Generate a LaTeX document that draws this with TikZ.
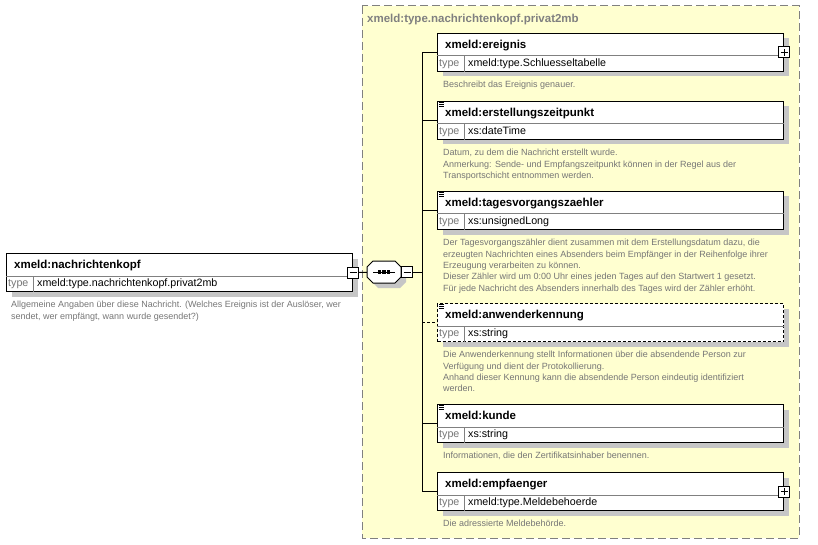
\documentclass[tikz,border=0pt]{standalone}
\usepackage{fontspec}
\setmainfont{Liberation Sans}
\usetikzlibrary{positioning,shadows}
\definecolor{panelyellow}{RGB}{255,255,208}
\definecolor{framegray}{RGB}{128,128,128}
\definecolor{textgray}{RGB}{118,118,118}
\definecolor{shadowgray}{RGB}{198,198,198}
\tikzset{
  elbox/.style ={rectangle, draw=black, line width=1pt, fill=white, minimum width=346pt, minimum height=38pt, inner sep=0pt, anchor=north west,
                 drop shadow={shadow xshift=5pt, shadow yshift=-5pt, fill=shadowgray, opacity=1}},
  optbox/.style={dash pattern=on 3pt off 2pt},
  rowrule/.style={draw=framegray, line width=1pt},
  eltitle/.style={anchor=base west, inner sep=0pt, font=\fontsize{11.5}{13}\selectfont\bfseries},
  tylabel/.style={anchor=base west, inner sep=0pt, text=textgray, font=\fontsize{10.7}{12}\selectfont},
  tyname/.style ={anchor=base west, inner sep=0pt, font=\fontsize{10.7}{12}\selectfont},
  desc/.style   ={inner sep=0pt, align=left, text=textgray, font=\fontsize{9}{11.4}\selectfont},
  wire/.style   ={draw=black, line width=1pt},
  optwire/.style={wire, dash pattern=on 3pt off 2pt},
  expander/.style={rectangle, draw=black, line width=1pt, fill=white, minimum size=11pt, inner sep=0pt},
  plusbox/.style ={expander, path picture={
      \draw[line width=1pt] ([xshift=2pt]path picture bounding box.west) -- ([xshift=-2pt]path picture bounding box.east)
                            ([yshift=-2pt]path picture bounding box.north) -- ([yshift=2pt]path picture bounding box.south);}},
  minusbox/.style={expander, path picture={
      \draw[line width=1pt] ([xshift=2pt]path picture bounding box.west) -- ([xshift=-2pt]path picture bounding box.east);}},
  seqhull/.style={rectangle, minimum width=34pt, minimum height=22pt, inner sep=0pt},
  panel/.style  ={fill=panelyellow, draw=framegray, line width=1pt, dash pattern=on 8pt off 4pt},
  paneltitle/.style={anchor=base west, inner sep=0pt, text=framegray, font=\fontsize{11.5}{13}\selectfont\bfseries},
  simpleicon/.style={draw=black, line width=0.8pt},
}
% element box: name, x, y, title, type, extra style
\newcommand{\xelem}[6]{%
  \node[elbox,#6] (#1) at (#2,#3) {};
  \draw[rowrule] ([yshift=-23pt]#1.north west) -- ([yshift=-23pt]#1.north east);
  \draw[rowrule] ([xshift=27pt,yshift=-23pt]#1.north west) -- ([xshift=27pt]#1.south west);
  \node[eltitle] (#1-t) at ([xshift=8pt,yshift=-15.5pt]#1.north west) {#4};
  \node[tylabel] (#1-l) at ([xshift=2pt,yshift=-33.7pt]#1.north west) {type};
  \node[tyname] (#1-n) at ([xshift=31pt,yshift=-33.7pt]#1.north west) {#5};
}

\begin{document}
\begin{tikzpicture}[x=1pt,y=-1pt]
\useasboundingbox (0,0) rectangle (818,545);
\draw[panel] (362,6) rectangle (799,538);
\node[paneltitle] (ptitle) at (367,23) {xmeld:type.nachrichtenkopf.privat2mb};

\xelem{main}{6}{253}{xmeld:nachrichtenkopf}{xmeld:type.nachrichtenkopf.privat2mb}{}
\node[desc, below right=9pt and 5pt of main.south west] (main-d)
  {Allgemeine Angaben über diese Nachricht. (Welches Ereignis ist der Auslöser, wer\\sendet, wer empfängt, wann wurde gesendet?)};
\node[minusbox] (mainx) at (main.east) {};

% sequence compositor
\node[seqhull] (seq) at (384,272) {};
\begin{scope}[shift={(seq.center)}]
\fill[shadowgray, xshift=5pt, yshift=-5pt] (-17,-5) -- (-11,-11) -- (11,-11) -- (17,-5) -- (17,5) -- (11,11) -- (-11,11) -- (-17,5) -- cycle;
\draw[wire, fill=white] (-17,-5) -- (-11,-11) -- (11,-11) -- (17,-5) -- (17,5) -- (11,11) -- (-11,11) -- (-17,5) -- cycle;
\draw[wire] (-11,0) -- (11,0);
\foreach \dx in {-4.5,0,4.5}
  \fill (\dx-1.75,-1.75) rectangle (\dx+1.75,1.75);
\end{scope}
\node[minusbox, anchor=west] (seqx) at (seq.east) {};
\draw[wire] (mainx) -- (seq);

\xelem{ereig}{437}{33}{xmeld:ereignis}{xmeld:type.Schluesseltabelle}{}
\xelem{erst}{437}{101}{xmeld:erstellungszeitpunkt}{xs:dateTime}{}
\xelem{tages}{437}{191}{xmeld:tagesvorgangszaehler}{xs:unsignedLong}{}
\xelem{anw}{437}{303}{xmeld:anwenderkennung}{xs:string}{optbox}
\xelem{kunde}{437}{404}{xmeld:kunde}{xs:string}{}
\xelem{empf}{437}{472}{xmeld:empfaenger}{xmeld:type.Meldebehoerde}{}
\node[plusbox] (ereigx) at (ereig.east) {};
\node[plusbox] (empfx) at (empf.east) {};
\foreach \n in {erst,tages,anw,kunde}
  \foreach \k in {1,3,5}
    \draw[simpleicon] ([xshift=2pt,yshift=-\k pt]\n.north west) -- ++(5pt,0pt);

\node[desc, below right=9pt and 6pt of ereig.south west] (ereig-d) {Beschreibt das Ereignis genauer.};
\node[desc, below right=9pt and 6pt of erst.south west] (erst-d)
  {Datum, zu dem die Nachricht erstellt wurde.\\Anmerkung: Sende- und Empfangszeitpunkt können in der Regel aus der\\Transportschicht entnommen werden.};
\node[desc, below right=9pt and 6pt of tages.south west] (tages-d)
  {Der Tagesvorgangszähler dient zusammen mit dem Erstellungsdatum dazu, die\\erzeugten Nachrichten eines Absenders beim Empfänger in der Reihenfolge ihrer\\Erzeugung verarbeiten zu können.\\Dieser Zähler wird um 0:00 Uhr eines jeden Tages auf den Startwert 1 gesetzt.\\Für jede Nachricht des Absenders innerhalb des Tages wird der Zähler erhöht.};
\node[desc, below right=9pt and 6pt of anw.south west] (anw-d)
  {Die Anwenderkennung stellt Informationen über die absendende Person zur\\Verfügung und dient der Protokollierung.\\Anhand dieser Kennung kann die absendende Person eindeutig identifiziert\\werden.};
\node[desc, below right=9pt and 6pt of kunde.south west] (kunde-d) {Informationen, die den Zertifikatsinhaber benennen.};
\node[desc, below right=9pt and 6pt of empf.south west] (empf-d) {Die adressierte Meldebehörde.};

% bus and stubs
\foreach \n in {ereig,erst,tages,anw,kunde,empf}
  \coordinate (\n-in) at ([xshift=-15pt]\n.west);
\draw[wire] (ereig-in) -- (empf-in);
\draw[wire] (seqx) -- (seqx -| ereig-in);
\foreach \n in {ereig,erst,tages,kunde,empf}
  \draw[wire] (\n-in) -- (\n);
\draw[optwire] (anw-in) -- (anw);
\end{tikzpicture}
\end{document}
